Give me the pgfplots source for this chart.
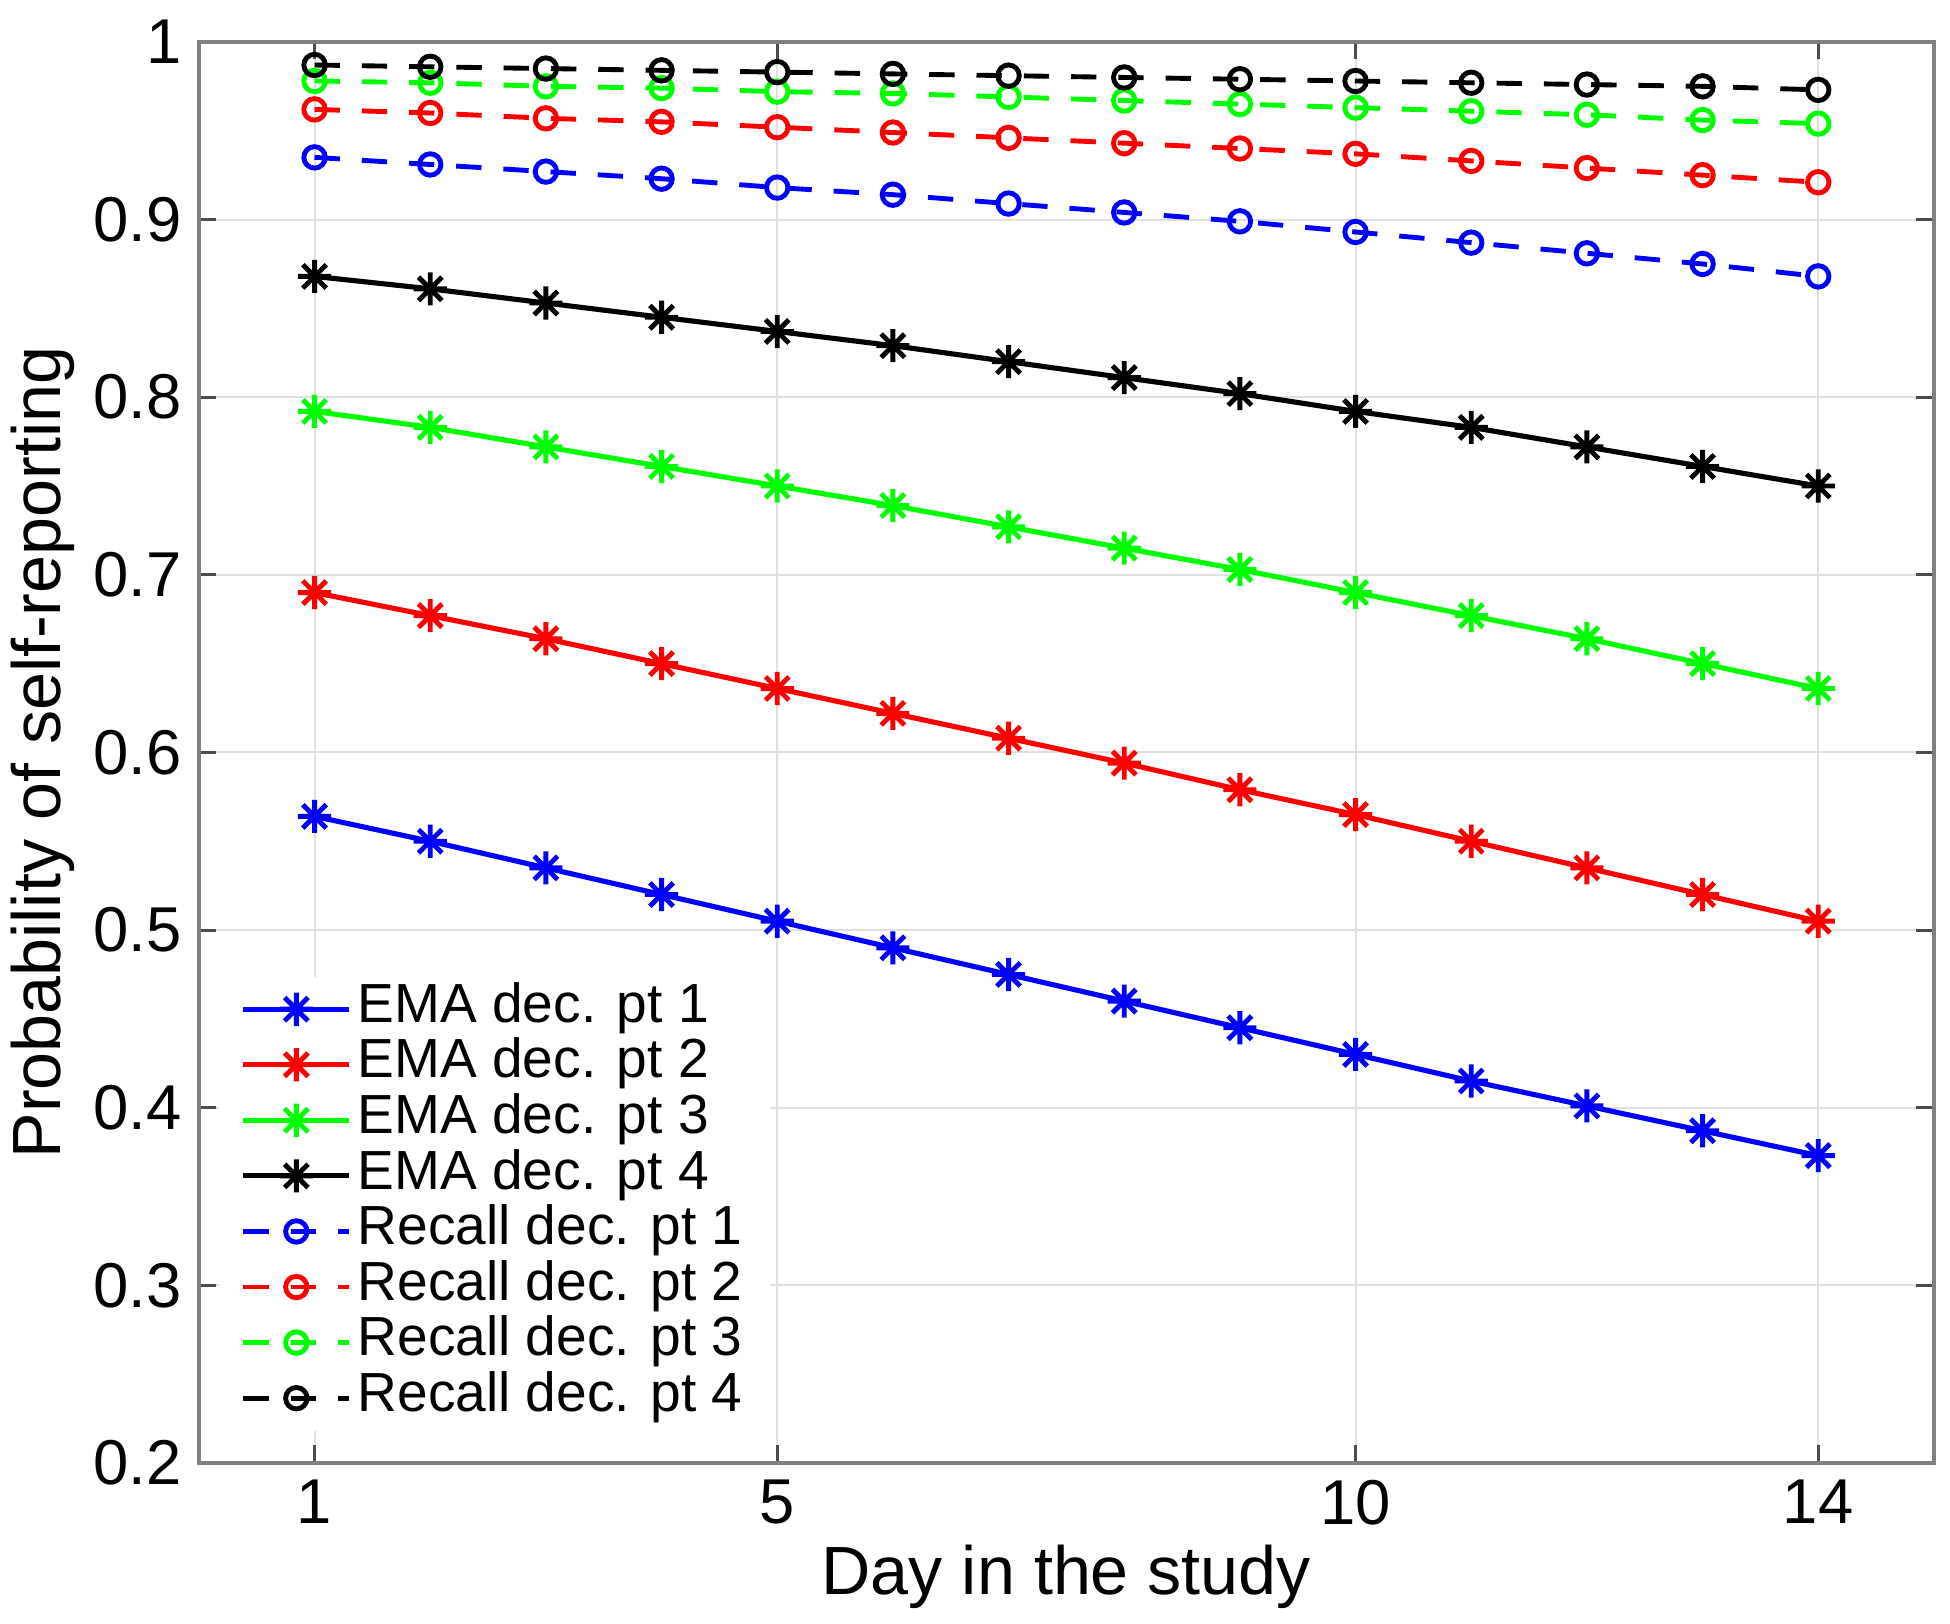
\documentclass[border=0pt]{standalone}
\usepackage{fontspec}
\setmainfont{Liberation Sans}
\usepackage{pgfplots}
\usepackage{pgfplotstable}
\pgfplotsset{compat=1.18}
\definecolor{axgray}{gray}{0.5}
\definecolor{tickgray}{gray}{0.3}
\definecolor{gridgray}{gray}{0.88}

\pgfdeclareplotmark{mstar}{%
  \pgfpathmoveto{\pgfqpoint{0pt}{\pgfplotmarksize}}%
  \pgfpathlineto{\pgfqpoint{0pt}{-\pgfplotmarksize}}%
  \pgfpathmoveto{\pgfqpoint{\pgfplotmarksize}{0pt}}%
  \pgfpathlineto{\pgfqpoint{-\pgfplotmarksize}{0pt}}%
  \pgfpathmoveto{\pgfqpoint{0.7071\pgfplotmarksize}{0.7071\pgfplotmarksize}}%
  \pgfpathlineto{\pgfqpoint{-0.7071\pgfplotmarksize}{-0.7071\pgfplotmarksize}}%
  \pgfpathmoveto{\pgfqpoint{-0.7071\pgfplotmarksize}{0.7071\pgfplotmarksize}}%
  \pgfpathlineto{\pgfqpoint{0.7071\pgfplotmarksize}{-0.7071\pgfplotmarksize}}%
  \pgfusepathqstroke}

\pgfplotstableread{
day e1 e2 e3 e4 r1 r2 r3 r4
1 0.564 0.690 0.792 0.868 0.935 0.962 0.978 0.987
2 0.550 0.677 0.783 0.861 0.931 0.960 0.977 0.986
3 0.535 0.664 0.772 0.853 0.927 0.957 0.975 0.985
4 0.520 0.650 0.761 0.845 0.923 0.955 0.974 0.984
5 0.505 0.636 0.750 0.837 0.918 0.952 0.972 0.983
6 0.490 0.622 0.739 0.829 0.914 0.949 0.971 0.982
7 0.475 0.608 0.727 0.820 0.909 0.946 0.969 0.981
8 0.460 0.594 0.715 0.811 0.904 0.943 0.967 0.980
9 0.445 0.579 0.703 0.802 0.899 0.940 0.965 0.979
10 0.430 0.565 0.690 0.792 0.893 0.937 0.963 0.978
11 0.415 0.550 0.677 0.783 0.887 0.933 0.961 0.977
12 0.401 0.535 0.664 0.772 0.881 0.929 0.959 0.976
13 0.387 0.520 0.650 0.761 0.875 0.925 0.956 0.975
14 0.373 0.505 0.636 0.750 0.868 0.921 0.954 0.973
}\datatable

\begin{document}
\begin{tikzpicture}
\begin{axis}[
  scale only axis, width=355.9pt, height=291.5pt,
  xmin=0, xmax=15, ymin=0.2, ymax=1,
  xtick={1,5,10,14}, xticklabels={1,5,10,14},
  ytick={0.2,0.3,0.4,0.5,0.6,0.7,0.8,0.9,1},
  yticklabels={0.2,0.3,0.4,0.5,0.6,0.7,0.8,0.9,1},
  /pgf/number format/assume math mode=true,
  tick align=inside, major tick length=3.6pt,
  axis line style={axgray, line width=0.8pt},
  every tick/.style={tickgray, line width=0.6pt},
  grid=major, major grid style={gridgray, line width=0.4pt},
  tick label style={font=\fontsize{13}{15}\selectfont},
  xlabel={Day in the study},
  ylabel={Probability of self-reporting},
  label style={font=\fontsize{14}{16}\selectfont},
  xlabel style={at={(axis description cs:0.5,-0.0923)}, anchor=base},
  ylabel style={at={(axis description cs:-0.0795,0.5)}, anchor=base, rotate=0},
  legend cell align=left,
  legend image code/.code={\draw[mark repeat=2, mark phase=2, #1] plot coordinates {(0pt,0pt) (10.85pt,0pt) (21.7pt,0pt)};},
  legend style={at={(axis description cs:0.011,0.343)}, anchor=north west,
    draw=none, fill=white, inner xsep=4.5pt, inner ysep=1pt,
    font=\fontsize{11.3}{11.4}\selectfont, row sep=0pt,
    nodes={inner xsep=1.2pt, inner ysep=0pt, text height=8.4pt, text depth=3.0pt}},
]
\coordinate (bl) at (rel axis cs:0,0);
\coordinate (tr) at (rel axis cs:1,1);
\addplot[blue, line width=1.05pt, mark=mstar, mark size=3.4pt, mark options={solid, line width=1pt}] table[x=day, y=e1] {\datatable};
\addplot[red, line width=1.05pt, mark=mstar, mark size=3.4pt, mark options={solid, line width=1pt}] table[x=day, y=e2] {\datatable};
\addplot[green, line width=1.05pt, mark=mstar, mark size=3.4pt, mark options={solid, line width=1pt}] table[x=day, y=e3] {\datatable};
\addplot[black, line width=1.05pt, mark=mstar, mark size=3.4pt, mark options={solid, line width=1pt}] table[x=day, y=e4] {\datatable};
\addplot[blue, line width=1pt, dash pattern=on 5.2pt off 4.5pt, mark=o, mark size=2.2pt, mark options={solid}] table[x=day, y=r1] {\datatable};
\addplot[red, line width=1pt, dash pattern=on 5.2pt off 4.5pt, mark=o, mark size=2.2pt, mark options={solid}] table[x=day, y=r2] {\datatable};
\addplot[green, line width=1pt, dash pattern=on 5.2pt off 4.5pt, mark=o, mark size=2.2pt, mark options={solid}] table[x=day, y=r3] {\datatable};
\addplot[black, line width=1pt, dash pattern=on 5.2pt off 4.5pt, mark=o, mark size=2.2pt, mark options={solid}] table[x=day, y=r4] {\datatable};
\legend{EMA dec. pt 1, EMA dec. pt 2, EMA dec. pt 3, EMA dec. pt 4, Recall dec. pt 1, Recall dec. pt 2, Recall dec. pt 3, Recall dec. pt 4}
\end{axis}
\pgfresetboundingbox
\path ([shift={(-40.8pt,-33pt)}]bl) rectangle ([shift={(3.3pt,8.6pt)}]tr);
\end{tikzpicture}
\end{document}
